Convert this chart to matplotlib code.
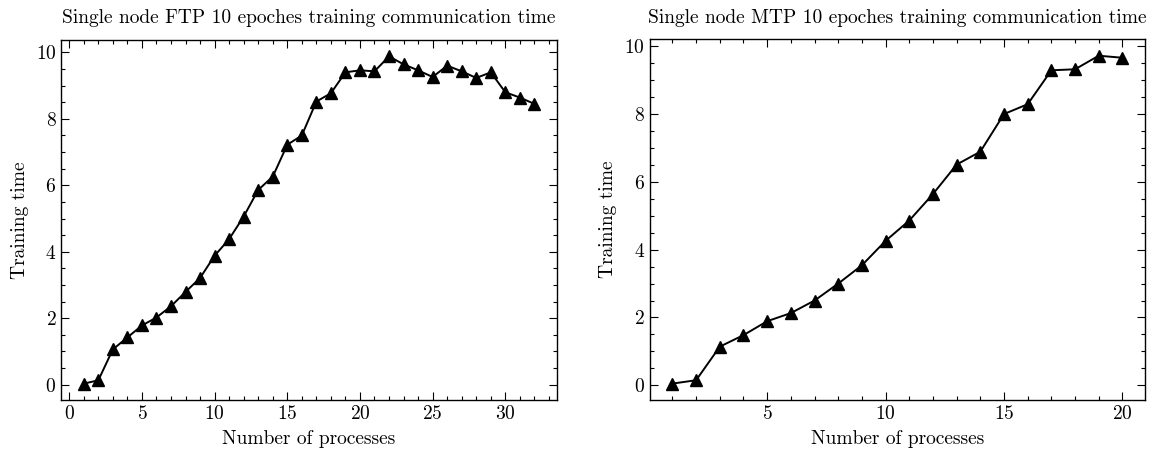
import matplotlib
matplotlib.use("Agg")
import matplotlib.pyplot as plt
from matplotlib.ticker import MultipleLocator

ftp_procs = list(range(1, 33))
ftp_time = [0.03, 0.13, 1.06, 1.42, 1.78, 2.02, 2.36, 2.79, 3.21, 3.88,
            4.38, 5.06, 5.86, 6.26, 7.22, 7.50, 8.52, 8.77, 9.40, 9.46,
            9.43, 9.88, 9.64, 9.46, 9.26, 9.60, 9.43, 9.23, 9.40, 8.80,
            8.64, 8.45]

mtp_procs = list(range(1, 21))
mtp_time = [0.05, 0.15, 1.14, 1.48, 1.89, 2.13, 2.50, 3.00, 3.54, 4.26,
            4.86, 5.64, 6.51, 6.89, 8.00, 8.29, 9.29, 9.32, 9.72, 9.66]

titles = ["Single node FTP 10 epoches training communication time",
          "Single node MTP 10 epoches training communication time"]
xlabel = "Number of processes"
ylabel = "Training time"

plt.rcParams.update({
    "font.family": ["cmr10", "DejaVu Serif"],
    "mathtext.fontset": "cm",
    "axes.formatter.use_mathtext": True,
    "font.size": 14,
    "axes.linewidth": 1.0,
})

fig = plt.figure(figsize=(11.6, 4.53), dpi=100)
ax1 = fig.add_axes([0.0528, 0.117, 0.4273, 0.7947])
ax2 = fig.add_axes([0.5603, 0.117, 0.4267, 0.7962])

for ax, xs, ys, t in [(ax1, ftp_procs, ftp_time, titles[0]),
                      (ax2, mtp_procs, mtp_time, titles[1])]:
    ax.plot(xs, ys, color="black", marker="^", markersize=8, linewidth=1.4)
    ax.set_title(t, fontsize=14, pad=12)
    ax.set_xlabel(xlabel, fontsize=14, labelpad=5)
    ax.set_ylabel(ylabel, fontsize=14, labelpad=5)
    ax.xaxis.set_major_locator(MultipleLocator(5))
    ax.xaxis.set_minor_locator(MultipleLocator(1))
    ax.yaxis.set_major_locator(MultipleLocator(2))
    ax.yaxis.set_minor_locator(MultipleLocator(0.5))
    ax.tick_params(which="both", direction="in", top=True, right=True,
                   labelsize=14, width=0.8)
    ax.tick_params(which="major", length=6)
    ax.tick_params(which="minor", length=3)

fig.savefig("out.png", dpi=100)
